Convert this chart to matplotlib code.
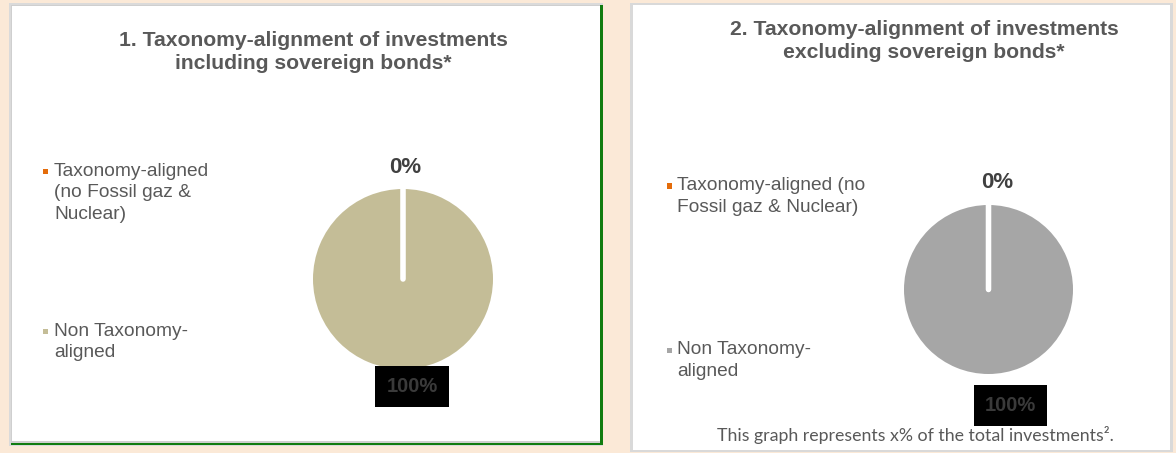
import matplotlib
matplotlib.use("Agg")
import matplotlib.pyplot as plt
from matplotlib.patches import Rectangle

W, H = 1176, 453

# ---- data ----
categories = ["Taxonomy-aligned (no Fossil gaz & Nuclear)", "Non Taxonomy-aligned"]
values_incl = [0, 100]
values_excl = [0, 100]
titles = ["1. Taxonomy-alignment of investments\nincluding sovereign bonds*",
          "2. Taxonomy-alignment of investments\nexcluding sovereign bonds*"]
legend_labels_1 = ["Taxonomy-aligned\n(no Fossil gaz &\nNuclear)", "Non Taxonomy-\naligned"]
legend_labels_2 = ["Taxonomy-aligned (no\nFossil gaz & Nuclear)", "Non Taxonomy-\naligned"]
colors_1 = ["#E46C0A", "#C4BD97"]
colors_2 = ["#E46C0A", "#A6A6A6"]
footnote = "This graph represents x% of the total investments\u00b2."

TEXT = "#595959"
BG = "#FBE9D7"

fig = plt.figure(figsize=(W / 100, H / 100), dpi=100)
fig.patch.set_facecolor(BG)


def px_rect(x0, y0, x1, y1):
    """pixel box (top-left origin) -> figure fraction [l, b, w, h]"""
    return [x0 / W, 1 - y1 / H, (x1 - x0) / W, (y1 - y0) / H]


def fx(x):
    return x / W


def fy(y):
    return 1 - y / H


def add_box(x0, y0, x1, y1, color, z=-5):
    fig.patches.append(Rectangle((fx(x0), fy(y1)), fx(x1) - fx(x0), fy(y0) - fy(y1),
                                 transform=fig.transFigure, facecolor=color,
                                 edgecolor="none", zorder=z))


# ---- panels ----
add_box(9, 3, 603, 446, "#DADADA", -10)
add_box(11, 5, 603, 445, "#107C10", -9)
add_box(11, 5, 600, 443, "#CFCFCF", -8)
add_box(12, 6, 600, 441, "white", -7)
add_box(630, 3, 1173, 452, "#D9D9D9", -10)
add_box(633, 5, 1170, 450, "white", -7)

# ---- titles ----
fig.text(fx(313), fy(52), titles[0], ha="center", va="center", fontsize=15.2,
         fontweight="bold", color=TEXT, family="Liberation Sans", linespacing=1.3)
fig.text(fx(924), fy(41), titles[1], ha="center", va="center", fontsize=15.2,
         fontweight="bold", color=TEXT, family="Liberation Sans", linespacing=1.3)


# ---- legends ----
def draw_legend(x_sq, x_txt, ys, labels, colors):
    for y, lab, col in zip(ys, labels, colors):
        add_box(x_sq - 2.5, y - 2.5, x_sq + 2.5, y + 2.5, col, 2)
        fig.text(fx(x_txt), fy(y - 8.5), lab, ha="left", va="top", fontsize=13.8,
                 color=TEXT, family="Liberation Sans", linespacing=1.37)


draw_legend(45, 54, [171, 331], legend_labels_1, colors_1)
draw_legend(670, 677, [186, 350], legend_labels_2, colors_2)


# ---- pies ----
def draw_pie(rect, values, colors, d0, d100, dx0, dx100):
    ax = fig.add_axes(rect)
    ax.set_zorder(5)
    wedges, _ = ax.pie(values, colors=colors, startangle=90, counterclock=False,
                       wedgeprops=dict(edgecolor="white", linewidth=4))
    wedges[1].set_edgecolor("none")
    wedges[0].set_zorder(3)
    wedges[0].set_capstyle("round")
    ax.set_xlim(-1, 1)
    ax.set_ylim(-1, 1)
    ax.set_aspect("equal")
    ax.axis("off")
    ax.text(dx0, d0, f"{values[0]}%", ha="center", va="center", fontsize=16,
            fontweight="bold", color="#404040", family="Liberation Sans")
    ax.text(dx100, -d100, f"{values[1]}%", ha="center", va="center", fontsize=14.5,
            fontweight="bold", color="#3A3A3A", family="Liberation Sans",
            bbox=dict(boxstyle="square,pad=0.55", facecolor="black", edgecolor="none"))
    return ax


draw_pie(px_rect(313, 189, 493, 369), values_incl, colors_1, 1.24, 1.19, 0.02, 0.10)
draw_pie(px_rect(904, 205, 1073, 374), values_excl, colors_2, 1.27, 1.37, 0.10, 0.26)

# ---- footnote ----
fig.text(fx(915), fy(435), footnote, ha="center", va="center", fontsize=12.8,
         color=TEXT, family="Lato")

fig.savefig("out.png", dpi=100, facecolor=BG)
